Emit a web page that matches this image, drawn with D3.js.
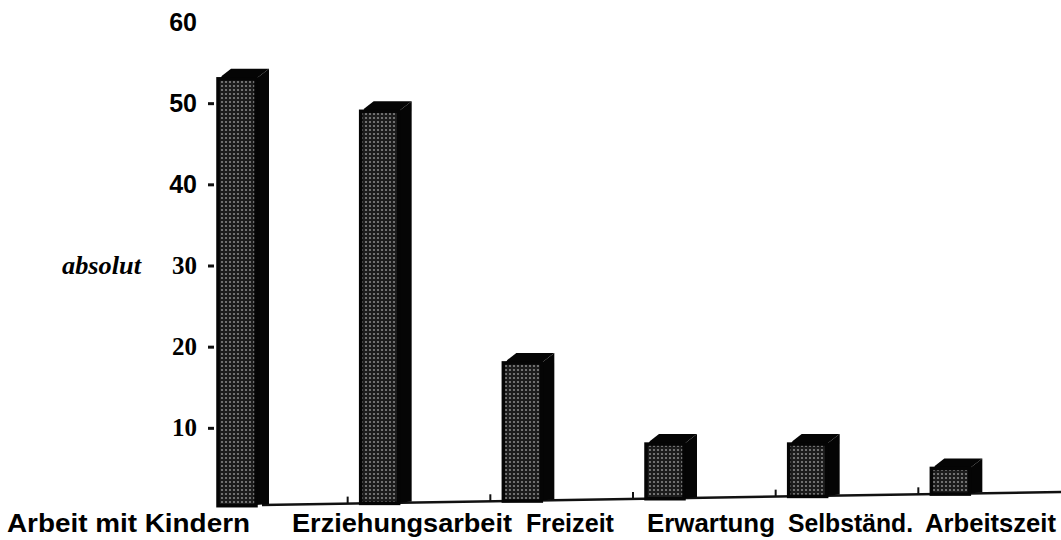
<!DOCTYPE html>
<html lang="en">
<head>
<meta charset="utf-8">
<title>absolut</title>
<script src="https://d3js.org/d3.v7.min.js"></script>
<style>
  body { margin: 0; background: #fff; }
  svg { display: block; }
</style>
</head>
<body>
<script>
// data
const categories = ["Arbeit mit Kindern", "Erziehungsarbeit", "Freizeit", "Erwartung", "Selbständ.", "Arbeitszeit"];
const values = [53, 49, 18, 8, 8, 5];
const yTicks = [10, 20, 30, 40, 50, 60];
const yLabel = "absolut";

// layout
const width = 1061, height = 540;
const labelStart = [7, 292, 526, 647, 788, 925];
const labelWidth = [243, 220, 88, 128, 125, 131];
const depthX = 13, depthY = 10;

const svg = d3.select("body").append("svg")
  .attr("width", width)
  .attr("height", height);

// halftone fill of the front faces
const pat = svg.append("defs").append("pattern")
  .attr("id", "dots")
  .attr("patternUnits", "userSpaceOnUse")
  .attr("width", 4).attr("height", 4);
pat.append("rect").attr("width", 4).attr("height", 4).attr("fill", "#1c1c1c");
pat.append("circle").attr("cx", 2).attr("cy", 2).attr("r", 1.1).attr("fill", "#858585");

const xScale = d3.scaleBand()
  .domain(categories)
  .range([205, width]);

const yScale = d3.scaleLinear()
  .domain([0, 60])
  .range([509, 22]);

// sloping floor line
const baseY = x => 505 - (x - 262) * 13 / 799;

// y axis
const yAxis = svg.append("g")
  .attr("transform", "translate(214,0)")
  .call(d3.axisLeft(yScale).tickValues(yTicks).tickSize(6).tickPadding(11));
yAxis.select(".domain").remove();
yAxis.selectAll(".tick line")
  .attr("stroke", "#111")
  .attr("stroke-width", 3)
  .filter(d => d === 60).remove();
yAxis.selectAll(".tick text")
  .attr("fill", "#000")
  .attr("font-weight", "bold")
  .attr("font-size", 25)
  .attr("font-family", d => d >= 40 ? "'Liberation Sans', Arial, sans-serif" : "'Liberation Serif', 'Times New Roman', serif");

svg.append("text")
  .attr("x", 62)
  .attr("y", yScale(30) + 8)
  .attr("textLength", 79)
  .attr("lengthAdjust", "spacingAndGlyphs")
  .attr("font-family", "'Liberation Serif', 'Times New Roman', serif")
  .attr("font-style", "italic")
  .attr("font-weight", "bold")
  .attr("font-size", 26)
  .text(yLabel);

// floor + category ticks
svg.append("line")
  .attr("x1", 262).attr("y1", baseY(262))
  .attr("x2", width).attr("y2", baseY(width))
  .attr("stroke", "#111")
  .attr("stroke-width", 2.5);

svg.selectAll(".xtick")
  .data(categories.slice(1))
  .enter().append("line")
  .attr("class", "xtick")
  .attr("x1", d => xScale(d)).attr("x2", d => xScale(d))
  .attr("y1", d => baseY(xScale(d)))
  .attr("y2", d => baseY(xScale(d)) - 7)
  .attr("stroke", "#111")
  .attr("stroke-width", 2);

// 3d bars
const bw = 38;
const bars = svg.selectAll(".bar")
  .data(categories.map((c, i) => ({ c, v: values[i] })))
  .enter().append("g")
  .attr("class", "bar");

bars.append("polygon") // side
  .attr("points", d => {
    const x0 = xScale(d.c) + 13, x1 = x0 + bw;
    const t = yScale(d.v), b = baseY(x1);
    return [[x1, t], [x1 + depthX, t - depthY], [x1 + depthX, baseY(x1 + depthX) - 1], [x1, b]].join(" ");
  })
  .attr("fill", "#050505");

bars.append("polygon") // top
  .attr("points", d => {
    const x0 = xScale(d.c) + 13, x1 = x0 + bw;
    const t = yScale(d.v);
    return [[x0, t + 3], [x0 + 4, t - 3], [x0 + depthX, t - depthY], [x1 + depthX, t - depthY], [x1, t]].join(" ");
  })
  .attr("fill", "#050505");

bars.append("rect") // front
  .attr("x", d => xScale(d.c) + 13)
  .attr("y", d => yScale(d.v))
  .attr("width", bw)
  .attr("height", d => baseY(xScale(d.c) + 13) - yScale(d.v))
  .attr("fill", "url(#dots)")
  .attr("stroke", "#050505")
  .attr("stroke-width", 3.5);

// category labels
svg.selectAll(".xlabel")
  .data(categories)
  .enter().append("text")
  .attr("class", "xlabel")
  .attr("x", (d, i) => labelStart[i])
  .attr("y", 532)
  .attr("textLength", (d, i) => labelWidth[i])
  .attr("lengthAdjust", "spacingAndGlyphs")
  .attr("font-family", "'Liberation Sans', Arial, sans-serif")
  .attr("font-weight", "bold")
  .attr("font-size", 25)
  .text(d => d);
</script>
</body>
</html>
